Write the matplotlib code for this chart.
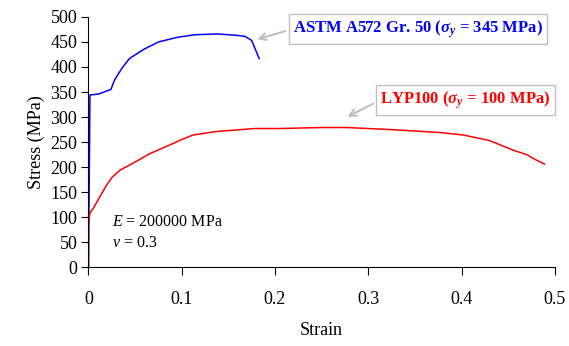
import numpy as np
import matplotlib
matplotlib.use("Agg")
import matplotlib.pyplot as plt

plt.rcParams['font.family'] = ['Liberation Serif', 'DejaVu Serif']
plt.rcParams['mathtext.fontset'] = 'custom'
plt.rcParams['mathtext.rm'] = 'Liberation Serif'
plt.rcParams['mathtext.it'] = 'Liberation Serif:italic'
plt.rcParams['mathtext.bf'] = 'Liberation Serif:bold:italic'

# Stress-strain curves
a572_strain = [0.0, 0.0016, 0.011, 0.024, 0.028, 0.036, 0.044, 0.059, 0.075, 0.0945,
               0.114, 0.139, 0.160, 0.168, 0.175, 0.183]
a572_stress = [0, 344, 346, 355, 374, 398, 417, 435, 450, 459,
               464.5, 466, 463, 461, 453, 417]

lyp_strain = [0.0, 0.0, 0.0016, 0.005, 0.012, 0.0195, 0.025, 0.034, 0.05, 0.066, 0.087,
              0.1, 0.112, 0.137, 0.178, 0.205, 0.25, 0.277, 0.323, 0.377, 0.402, 0.43,
              0.455, 0.471, 0.477, 0.489]
lyp_stress = [0, 87, 108, 117, 140, 164, 179, 194, 210, 227, 244,
              255, 264, 271, 277, 277, 279, 279, 275, 269, 264, 253,
              234, 224, 217, 206]

fig = plt.figure(figsize=(5.69, 3.46), dpi=100)
ax = fig.add_axes([0.1555, 0.228, 0.8195, 0.723])

ax.plot(a572_strain, a572_stress, color='#0000ff', lw=1.1)
ax.plot(lyp_strain, lyp_stress, color='#ff0000', lw=1.1)

ax.set_xlim(0, 0.5)
ax.set_ylim(0, 500)
ax.set_xticks([0, 0.1, 0.2, 0.3, 0.4, 0.5])
ax.set_xticklabels(['0', '0.1', '0.2', '0.3', '0.4', '0.5'])
ax.set_yticks(np.arange(0, 501, 50))
ax.spines['top'].set_visible(False)
ax.spines['right'].set_visible(False)
ax.tick_params(axis='x', direction='out', length=6, pad=11, labelsize=13)
ax.tick_params(axis='y', direction='out', length=5, pad=3, labelsize=13)
ax.set_xlabel('Strain', fontsize=13, labelpad=10)
ax.set_ylabel('Stress (MPa)', fontsize=13, labelpad=4)

box = dict(boxstyle='square,pad=0.25', fc='white', ec='#c0c0c0', lw=1)
arrow = dict(arrowstyle='->', color='#c0c0c0', lw=1.5, relpos=(0, 0.5))
ax.annotate(r'ASTM A572 Gr. 50 ($\mathbf{\sigma_y}$ = 345 MPa)', xy=(0.178, 454),
            xytext=(0.353, 476), ha='center', va='center', fontsize=12,
            fontweight='bold', color='#0000ff', bbox=box, arrowprops=arrow)
ax.annotate(r'LYP100 ($\mathbf{\sigma_y}$ = 100 MPa)', xy=(0.275, 298),
            xytext=(0.4045, 334), ha='center', va='center', fontsize=12,
            fontweight='bold', color='#ff0000', bbox=box, arrowprops=arrow)

ax.text(0.025, 90, r'$E$ = 200000 MPa', fontsize=11.5, va='center')
ax.text(0.025, 48, r'$\nu$ = 0.3', fontsize=11.5, va='center')

fig.savefig('out.png', dpi=100)
